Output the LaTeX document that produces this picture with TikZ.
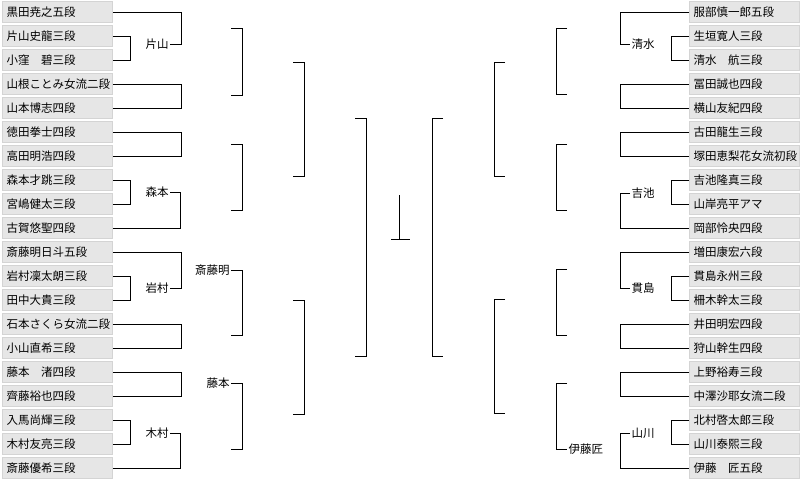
\documentclass[tikz,border=0pt]{standalone}
\usepackage{fontspec}
\setmainfont{Noto Sans CJK JP}
\usepackage{xcolor}
\definecolor{boxgray}{RGB}{230,230,230}
\definecolor{boxedge}{RGB}{212,212,212}

\begin{document}
\begin{tikzpicture}[x=1pt, y=-1pt, line width=1pt,
  player/.style={draw=boxedge, fill=boxgray, anchor=west,
    minimum width=110pt, minimum height=21pt, inner xsep=4pt, inner ysep=0pt,
    text width=102pt, align=left, font=\fontsize{11.5}{12}\selectfont},
  winner/.style={inner sep=1pt, font=\fontsize{11.5}{12}\selectfont}]

\useasboundingbox (0,0) rectangle (800,480);

% Left block players
\node[player] (L1) at (2,12) {黒田尭之五段};
\node[player] (L2) at (2,36) {片山史龍三段};
\node[player] (L3) at (2,60) {小窪　碧三段};
\node[player] (L4) at (2,84) {山根ことみ女流二段};
\node[player] (L5) at (2,108) {山本博志四段};
\node[player] (L6) at (2,132) {徳田拳士四段};
\node[player] (L7) at (2,156) {高田明浩四段};
\node[player] (L8) at (2,180) {森本才跳三段};
\node[player] (L9) at (2,204) {宮嶋健太三段};
\node[player] (L10) at (2,228) {古賀悠聖四段};
\node[player] (L11) at (2,252) {斎藤明日斗五段};
\node[player] (L12) at (2,276) {岩村凜太朗三段};
\node[player] (L13) at (2,300) {田中大貴三段};
\node[player] (L14) at (2,324) {石本さくら女流二段};
\node[player] (L15) at (2,348) {小山直希三段};
\node[player] (L16) at (2,372) {藤本　渚四段};
\node[player] (L17) at (2,396) {齊藤裕也四段};
\node[player] (L18) at (2,420) {入馬尚輝三段};
\node[player] (L19) at (2,444) {木村友亮三段};
\node[player] (L20) at (2,468) {斎藤優希三段};

% Right block players
\node[player] (R1) at (689,12) {服部慎一郎五段};
\node[player] (R2) at (689,36) {生垣寛人三段};
\node[player] (R3) at (689,60) {清水　航三段};
\node[player] (R4) at (689,84) {冨田誠也四段};
\node[player] (R5) at (689,108) {横山友紀四段};
\node[player] (R6) at (689,132) {古田龍生三段};
\node[player] (R7) at (689,156) {塚田恵梨花女流初段};
\node[player] (R8) at (689,180) {吉池隆真三段};
\node[player] (R9) at (689,204) {山岸亮平アマ};
\node[player] (R10) at (689,228) {岡部怜央四段};
\node[player] (R11) at (689,252) {増田康宏六段};
\node[player] (R12) at (689,276) {貫島永州三段};
\node[player] (R13) at (689,300) {柵木幹太三段};
\node[player] (R14) at (689,324) {井田明宏四段};
\node[player] (R15) at (689,348) {狩山幹生四段};
\node[player] (R16) at (689,372) {上野裕寿三段};
\node[player] (R17) at (689,396) {中澤沙耶女流二段};
\node[player] (R18) at (689,420) {北村啓太郎三段};
\node[player] (R19) at (689,444) {山川泰熙三段};
\node[player] (R20) at (689,468) {伊藤　匠五段};

% Winner labels
\node[winner, anchor=east] (katayama) at (170,44) {片山};
\node[winner, anchor=east] (morimoto) at (170,192) {森本};
\node[winner, anchor=east] (iwamura) at (170,288) {岩村};
\node[winner, anchor=east] (kimura) at (170,433) {木村};
\node[winner, anchor=east] (saitoA) at (231,270) {斎藤明};
\node[winner, anchor=east] (fujimoto) at (231,383) {藤本};
\node[winner, anchor=west] (shimizu) at (630,44) {清水};
\node[winner, anchor=west] (yoshiike) at (630,193) {吉池};
\node[winner, anchor=west] (nukishima) at (630,288) {貫島};
\node[winner, anchor=west] (yamakawa) at (630,433) {山川};
\node[winner, anchor=west] (itoT) at (567,449) {伊藤匠};

% Left first round
\draw (L2.east) -- ++(17,0) |- (L3.east);
\draw (L1.east) -- ++(68,0) |- (katayama.east);
\draw (L4.east) -- ++(68,0) |- (L5.east);
\draw (L6.east) -- ++(68,0) |- (L7.east);
\draw (L8.east) -- ++(17,0) |- (L9.east);
\draw (morimoto.east) -- ++(10,0) |- (L10.east);
\draw (L12.east) -- ++(17,0) |- (L13.east);
\draw (L11.east) -- ++(68,0) |- (iwamura.east);
\draw (L14.east) -- ++(68,0) |- (L15.east);
\draw (L16.east) -- ++(68,0) |- (L17.east);
\draw (L18.east) -- ++(17,0) |- (L19.east);
\draw (kimura.east) -- ++(10,0) |- (L20.east);

% Right first round
\draw (R2.west) -- ++(-18,0) |- (R3.west);
\draw (R1.west) -- ++(-69,0) |- (shimizu.west);
\draw (R4.west) -- ++(-69,0) |- (R5.west);
\draw (R6.west) -- ++(-69,0) |- (R7.west);
\draw (R8.west) -- ++(-18,0) |- (R9.west);
\draw (yoshiike.west) -- ++(-10,0) |- (R10.west);
\draw (R12.west) -- ++(-18,0) |- (R13.west);
\draw (R11.west) -- ++(-69,0) |- (nukishima.west);
\draw (R14.west) -- ++(-69,0) |- (R15.west);
\draw (R16.west) -- ++(-69,0) |- (R17.west);
\draw (R18.west) -- ++(-18,0) |- (R19.west);
\draw (yamakawa.west) -- ++(-10,0) |- (R20.west);

% Later rounds, free ends
\coordinate (la1) at (231,28);  \coordinate (la2) at (231,95);
\coordinate (lb1) at (231,144); \coordinate (lb2) at (231,210);
\coordinate (lc2) at (231,335); \coordinate (ld2) at (231,449);
\coordinate (lq1) at (293,62);  \coordinate (lq2) at (293,176);
\coordinate (lq3) at (293,300); \coordinate (lq4) at (293,414);
\coordinate (ls1) at (355,118); \coordinate (ls2) at (355,356);
\coordinate (ra1) at (567,28);  \coordinate (ra2) at (567,94);
\coordinate (rb1) at (567,144); \coordinate (rb2) at (567,210);
\coordinate (rc1) at (567,269); \coordinate (rc2) at (567,335);
\coordinate (rd1) at (567,383);
\coordinate (rq1) at (505,62);  \coordinate (rq2) at (505,176);
\coordinate (rq3) at (505,299); \coordinate (rq4) at (505,413);
\coordinate (rs1) at (443,118); \coordinate (rs2) at (443,356);
\coordinate (ftop) at (399,195); \coordinate (fbot) at (399,239);
\coordinate (fleft) at (391,239); \coordinate (fright) at (410,239);

% Left second round onwards
\draw (la1) -- ++(11,0) |- (la2);
\draw (lb1) -- ++(11,0) |- (lb2);
\draw (saitoA.east) -- ++(11,0) |- (lc2);
\draw (fujimoto.east) -- ++(11,0) |- (ld2);
\draw (lq1) -- ++(11,0) |- (lq2);
\draw (lq3) -- ++(11,0) |- (lq4);
\draw (ls1) -- ++(11,0) |- (ls2);

% Right second round onwards
\draw (ra1) -- ++(-11,0) |- (ra2);
\draw (rb1) -- ++(-11,0) |- (rb2);
\draw (rc1) -- ++(-11,0) |- (rc2);
\draw (rd1) -- ++(-11,0) |- (itoT.west);
\draw (rq1) -- ++(-11,0) |- (rq2);
\draw (rq3) -- ++(-11,0) |- (rq4);
\draw (rs1) -- ++(-11,0) |- (rs2);

% Final
\draw (ftop) -- (fbot);
\draw (fleft) -- (fright);

\end{tikzpicture}
\end{document}
